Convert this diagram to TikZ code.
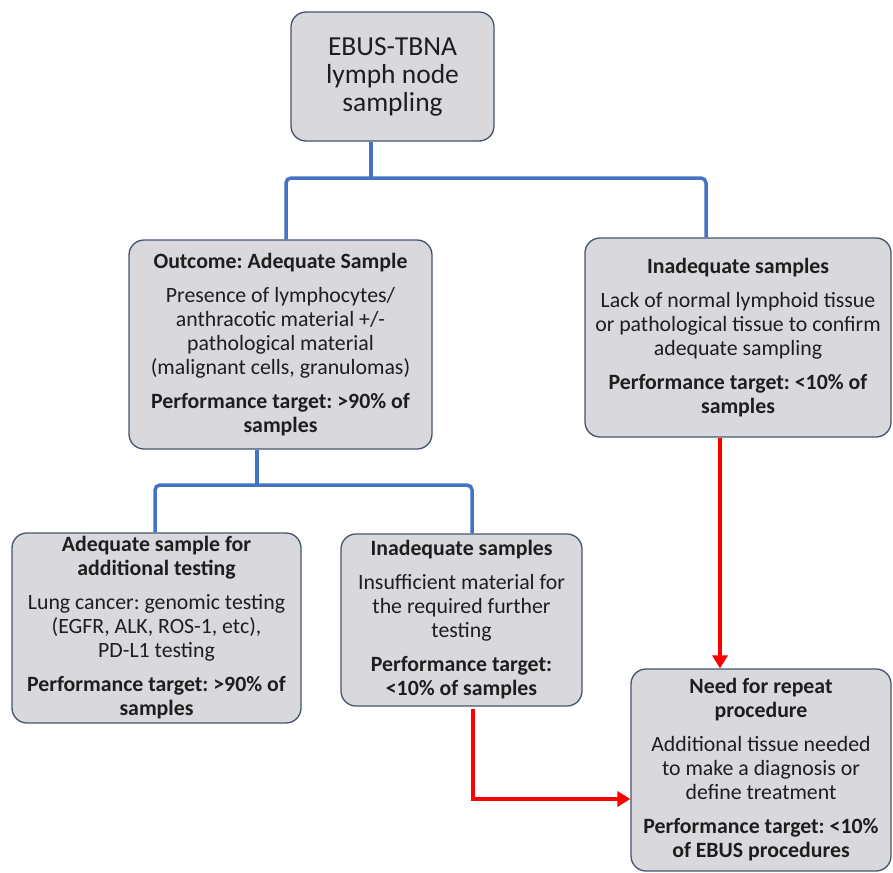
\documentclass[tikz,border=0pt]{standalone}
\usepackage{fontspec}
\setmainfont{Carlito}
\usetikzlibrary{arrows.meta}
\definecolor{boxfill}{RGB}{216,216,221}
\definecolor{boxline}{RGB}{68,84,106}
\definecolor{bl}{RGB}{68,114,196}
\definecolor{rd}{RGB}{255,0,0}
\definecolor{txt}{RGB}{30,30,30}
\frenchspacing
\begin{document}
\frenchspacing
\begin{tikzpicture}[x=1pt,y=-1pt,
  box/.style={draw=boxline, fill=boxfill, rounded corners=15pt, line width=1.3pt,
    align=center, inner sep=0pt, text=txt, font=\fontsize{21.8}{24}\selectfont\frenchspacing},
  blueline/.style={draw=bl, line width=3.5pt, rounded corners=5pt},
  redline/.style={draw=rd, line width=3.5pt, -{Triangle[length=13pt,width=15pt]}}]
\useasboundingbox (0,0) rectangle (893,872);

\node[box, minimum width=203pt, minimum height=129pt, font=\fontsize{27.5}{28}\selectfont] (top) at (392.5,76.5)
  {EBUS-TBNA\\lymph node\\sampling};

\node[box, minimum width=303pt, minimum height=209pt] (outcome) at (280.5,344.5)
  {\textbf{Outcome: Adequate Sample}\\[10pt]
   Presence of lymphocytes/\\anthracotic material +/-\\pathological material\\(malignant cells, granulomas)\\[10pt]
   \textbf{Performance target: >90\% of}\\\textbf{samples}};

\node[box, minimum width=306pt, minimum height=199pt] (inadR) at (738,337.5)
  {\textbf{Inadequate samples}\\[10pt]
   Lack of normal lymphoid tissue\\or pathological tissue to confirm\\adequate sampling\\[10pt]
   \textbf{Performance target: <10\% of}\\\textbf{samples}};

\node[box, minimum width=289pt, minimum height=190pt] (left) at (156.5,628)
  {\textbf{Adequate sample for}\\\textbf{additional testing}\\[10pt]
   Lung cancer: genomic testing\\(EGFR, ALK, ROS-1, etc),\\PD-L1 testing\\[10pt]
   \textbf{Performance target: >90\% of}\\\textbf{samples}};

\node[box, minimum width=241pt, minimum height=172pt] (mid) at (461.5,620)
  {\textbf{Inadequate samples}\\[10pt]
   Insufficient material for\\the required further\\testing\\[10pt]
   \textbf{Performance target:}\\\textbf{<10\% of samples}};

\node[box, minimum width=260pt, minimum height=202pt] (need) at (761,770)
  {\textbf{Need for repeat}\\\textbf{procedure}\\[10pt]
   Additional tissue needed\\to make a diagnosis or\\define treatment\\[10pt]
   \textbf{Performance target: <10\%}\\\textbf{of EBUS procedures}};

\coordinate (j0) at (371,178);
\coordinate (jL) at (286,178);
\coordinate (jR) at (706,178);
\coordinate (k0) at (257,485);
\coordinate (kL) at (155,485);
\coordinate (kR) at (472,485);
\coordinate (r1) at (720,0);
\coordinate (r2) at (473,799);
\coordinate (r2s) at (473,709);

\draw[blueline] (top.south -| j0) -- (j0);
\draw[blueline] (outcome.north -| jL) -- (jL) -- (jR) -- (inadR.north -| jR);
\draw[blueline] (outcome.south -| k0) -- (k0);
\draw[blueline] (left.north -| kL) -- (kL) -- (kR) -- (mid.north -| kR);

\draw[redline] (inadR.south -| r1) -- (need.north -| r1);
\draw[redline, rounded corners=0pt] (r2s) -- (r2) -- (need.west |- r2);
\end{tikzpicture}
\end{document}
